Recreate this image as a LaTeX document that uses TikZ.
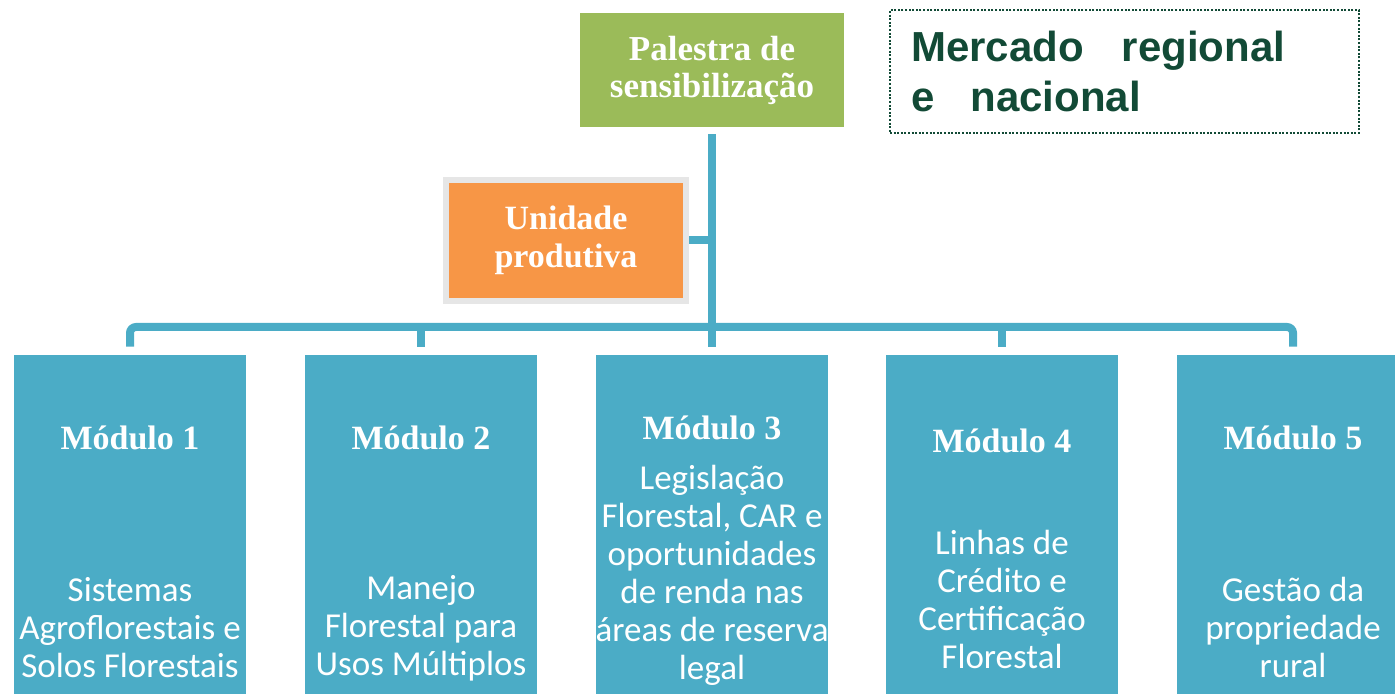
\documentclass[tikz,border=0pt]{standalone}
\usepackage{fontspec}
\setmainfont{Liberation Serif}
\newfontfamily\bodyfont{Carlito}
\newfontfamily\mercfont{Liberation Sans}
\usetikzlibrary{positioning}

\definecolor{palgreen}{HTML}{9BBB59}
\definecolor{uniorange}{HTML}{F79646}
\definecolor{unigray}{HTML}{E6E6E6}
\definecolor{modteal}{HTML}{4BACC6}
\definecolor{mercgreen}{HTML}{124A36}

\tikzset{
  topbox/.style={fill=palgreen, text=white, align=center, minimum width=132pt, minimum height=57pt,
    font=\fontsize{17.5}{18.5}\selectfont\bfseries},
  unibox/.style={fill=uniorange, draw=unigray, line width=3pt, text=white, align=center,
    minimum width=120pt, minimum height=60.5pt, font=\fontsize{17}{19}\selectfont\bfseries},
  mercbox/.style={draw=mercgreen, dash pattern=on 1pt off 0.8pt, line width=0.9pt, text=mercgreen,
    align=left, text width=213.5pt, inner xsep=10.5pt, minimum width=234.5pt, minimum height=61.5pt,
    font=\mercfont\bfseries\fontsize{21}{25}\selectfont},
  modbox/.style={fill=modteal, minimum width=116pt, minimum height=172.5pt, inner sep=0pt},
  modtitle/.style={text=white, inner sep=0pt, font=\fontsize{17}{19}\selectfont\bfseries},
  modtext/.style={text=white, align=center, inner sep=0pt, font=\bodyfont\fontsize{17.5}{19}\selectfont},
  conn/.style={draw=modteal, line width=4pt},
}

\begin{document}
\begin{tikzpicture}[x=0.5pt, y=-0.5pt]
  \useasboundingbox (0,0) rectangle (1395,694);

  % top of the tree
  \node[topbox] (palestra) at (712,70) {Palestra de\\sensibilização};
  \node[unibox] (unidade) at (566,240.5) {Unidade\\produtiva};
  \node[mercbox] (mercado) at (1124.5,71.5) {Mercado\hspace{19pt}regional\\e\hspace{18pt}nacional};

  % modules
  \node[modbox] (mod1) at (130,527.5) {};
  \node[modbox] (mod2) at (421,527.5) {};
  \node[modbox] (mod3) at (712,527.5) {};
  \node[modbox] (mod4) at (1002,527.5) {};
  \node[modbox] (mod5) at (1293,527.5) {};

  \node[modtitle] (title1) at (130,438) {Módulo 1};
  \node[modtitle] (title2) at (421,438) {Módulo 2};
  \node[modtitle] (title3) at (712,428) {Módulo 3};
  \node[modtitle] (title4) at (1002,441) {Módulo 4};
  \node[modtitle] (title5) at (1293,438) {Módulo 5};

  \node[modtext] (text1) at (130,628) {Sistemas\\Agroflorestais e\\Solos Florestais};
  \node[modtext] (text2) at (421,628) {Manejo\\Florestal para\\Usos Múltiplos};
  \node[modtext] (text3) at (712,575) {Legislação\\Florestal, CAR e\\oportunidades\\de renda nas\\áreas de reserva\\legal};
  \node[modtext] (text4) at (1002,599) {Linhas de\\Crédito e\\Certificação\\Florestal};
  \node[modtext] (text5) at (1293,627) {Gestão da\\propriedade\\rural};

  % connectors
  \coordinate (bar) at (712,327);
  \draw[conn, shorten <=3.5pt, shorten >=4pt] (palestra.south) -- (mod3.north);
  \draw[conn] (unidade.east) -- (unidade.east -| palestra.south);
  \draw[conn, rounded corners=3pt, shorten <=4pt, shorten >=4pt] (mod1.north) |- (bar) -| (mod5.north);
  \draw[conn, shorten >=4pt] (mod2.north |- bar) -- (mod2.north);
  \draw[conn, shorten >=4pt] (mod4.north |- bar) -- (mod4.north);

\end{tikzpicture}
\end{document}
